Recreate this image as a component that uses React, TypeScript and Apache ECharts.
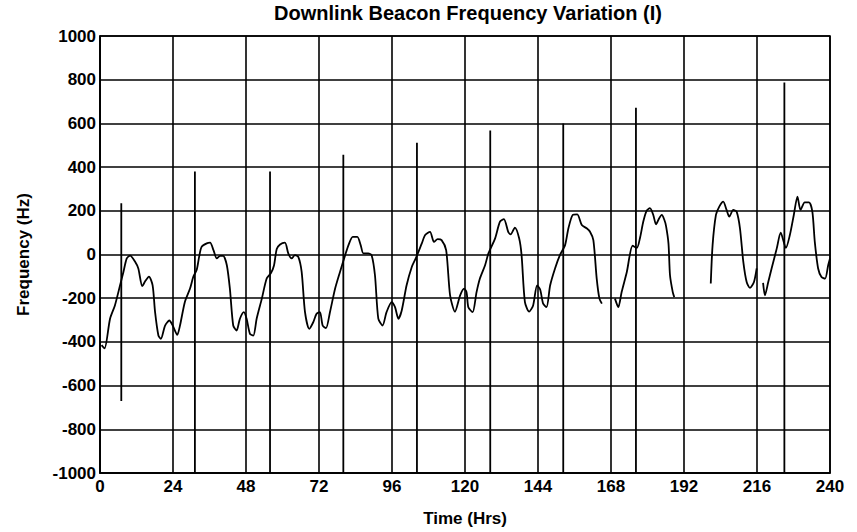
import React, { useEffect, useRef } from "react";
import * as echarts from "echarts";

// X axis ticks (hours) and Y axis ticks (Hz)
const hourTicks = [0, 24, 48, 72, 96, 120, 144, 168, 192, 216, 240];
const freqTicks = [-1000, -800, -600, -400, -200, 0, 200, 400, 600, 800, 1000];

// Continuous trace, pass 1 (0 - 165 h)
const hours1 = [0.5, 1.5, 3.3, 4.9, 6.6, 7.7, 8.8, 9.9, 11.5, 12.6, 13.9, 14.8, 16.1, 17.3, 18.1, 19.2, 20, 21.4, 22.8, 23.9, 25.4, 26.3, 27.9, 29.6, 30.7, 31.8, 32.6, 33.4, 35.1, 36.2, 37.3, 38.4, 39.5, 40.5, 41.7, 42.7, 43.8, 44.9, 46, 47.3, 48.2, 49.3, 50.4, 51.5, 53.2, 54.8, 56.2, 57.2, 58.1, 59.2, 60.8, 61.9, 63, 64.1, 65.2, 66.3, 67.4, 68.8, 70.1, 71.2, 72.3, 73.2, 74.3, 75.6, 77.3, 78.9, 80.6, 81.7, 83.1, 84.6, 85.7, 86.6, 88.2, 89.3, 90.4, 91.5, 92.9, 94.2, 95.9, 97, 98.1, 99.2, 100.8, 102.5, 103.8, 105.8, 106.9, 108.5, 109.8, 111, 112.3, 113.8, 115.1, 116.7, 118.4, 119.7, 120.5, 121.1, 122.5, 123.8, 124.9, 126.6, 127.7, 129.9, 131.5, 132.8, 134.2, 135, 136.4, 137.8, 138.6, 139.7, 141.1, 142.4, 143.7, 144.7, 145.7, 146.8, 148, 149.6, 151.2, 152.9, 154, 155.4, 156.9, 158.4, 160, 161.1, 162.2, 163.3, 164.2, 165];
const freq1 = [-415, -430, -294, -233, -141, -80, -18, -5, -32, -64, -145, -124, -101, -141, -263, -371, -386, -325, -302, -325, -368, -325, -217, -156, -101, -70, -10, 35, 51, 54, 20, -18, -6, -6, -49, -156, -325, -348, -294, -264, -294, -363, -371, -294, -202, -110, -85, -50, 25, 46, 54, 5, -18, -3, -11, -80, -264, -340, -310, -271, -264, -325, -337, -264, -156, -80, -3, 43, 81, 81, 43, 5, 5, -3, -95, -294, -325, -264, -218, -241, -294, -256, -141, -57, -18, 51, 89, 104, 58, 70, 66, 20, -187, -262, -187, -156, -172, -241, -264, -172, -110, -49, 5, 74, 150, 162, 104, 92, 123, 74, -3, -218, -261, -233, -141, -160, -225, -241, -141, -64, -3, 43, 120, 181, 184, 135, 120, 104, 66, -110, -202, -225];

// Pass 2 (169 - 189 h)
const hours2 = [169.3, 170.4, 171.5, 173.2, 175.1, 176.5, 177.6, 178.6, 179.7, 180.8, 181.9, 182.8, 183.8, 184.7, 185.5, 186.1, 186.9, 187.4, 188.3, 188.8];
const freq2 = [-202, -241, -172, -80, 40, 30, 80, 150, 200, 212, 181, 138, 165, 181, 160, 130, 50, -95, -172, -195];

// Pass 3 (201 - 216 h)
const hours3 = [200.8, 201.4, 202.5, 203.6, 204.9, 206, 206.9, 208.2, 209.3, 210.4, 211.5, 212.6, 213.7, 215, 215.9];
const freq3 = [-133, 43, 181, 219, 242, 204, 173, 204, 196, 120, -34, -126, -153, -126, -64];

// Pass 4 (218 - 240 h)
const hours4 = [218, 218.6, 219.7, 220.8, 222.5, 223.8, 225.5, 226.8, 228.1, 229.3, 230.3, 231.7, 233.1, 234.2, 235, 236.1, 237.2, 238.4, 239.4, 240];
const freq4 = [-130, -187, -126, -64, 28, 100, 30, 89, 181, 265, 204, 239, 239, 196, 58, -64, -103, -110, -49, -18];

// Vertical spikes (retune events)
const spikeHours = [7.0, 31.2, 55.9, 80.0, 104.2, 128.3, 152.3, 176.2, 225.0];
const spikeLow = [-670, -1000, -1000, -1000, -1000, -1000, -1000, -1000, -1000];
const spikeHigh = [235, 380, 380, 457, 511, 567, 600, 672, 787];

const FONT = "'Liberation Sans', Arial, Helvetica, sans-serif";

function buildTrace() {
  const segs: [number[], number[]][] = [
    [hours1, freq1],
    [hours2, freq2],
    [hours3, freq3],
    [hours4, freq4],
  ];
  const out: (number | null)[][] = [];
  segs.forEach(([h, f], i) => {
    if (i > 0) out.push([h[0], null]);
    h.forEach((t, j) => out.push([t, f[j]]));
  });
  return out;
}

function buildSpikes() {
  const out: (number | null)[][] = [];
  spikeHours.forEach((t, i) => {
    out.push([t, spikeLow[i]]);
    out.push([t, spikeHigh[i]]);
    out.push([t, null]);
  });
  return out;
}

export default function App() {
  const ref = useRef<HTMLDivElement>(null);
  useEffect(() => {
    const chart = echarts.init(ref.current!, null, { renderer: "svg" });
    const axisText = { color: "#000", fontSize: 17, fontWeight: "bold" as const, fontFamily: FONT };
    chart.setOption({
      animation: false,
      backgroundColor: "#fff",
      title: {
        text: "Downlink Beacon Frequency Variation (I)",
        left: 468,
        top: 3,
        padding: 0,
        textAlign: "center",
        textStyle: { color: "#000", fontSize: 20, fontWeight: "bold", fontFamily: FONT },
      },
      grid: {
        left: 100,
        top: 36,
        width: 730,
        height: 437,
        show: true,
        borderColor: "#000",
        borderWidth: 1.6,
      },
      xAxis: {
        type: "value",
        min: hourTicks[0],
        max: hourTicks[hourTicks.length - 1],
        interval: 24,
        name: "Time (Hrs)",
        nameLocation: "middle",
        nameGap: 37,
        nameTextStyle: axisText,
        axisLine: { onZero: false, lineStyle: { color: "#000", width: 1.6 } },
        axisTick: { show: false },
        axisLabel: { ...axisText, margin: 5, formatter: (v: number) => String(v) },
        splitLine: { show: true, lineStyle: { color: "#000", width: 1.6 } },
      },
      yAxis: {
        type: "value",
        min: freqTicks[0],
        max: freqTicks[freqTicks.length - 1],
        interval: 200,
        name: "Frequency (Hz)",
        nameLocation: "middle",
        nameGap: 68,
        nameTextStyle: axisText,
        axisLine: { show: true, onZero: false, lineStyle: { color: "#000", width: 1.6 } },
        axisTick: { show: false },
        axisLabel: { ...axisText, margin: 4, formatter: (v: number) => String(v) },
        splitLine: { show: true, lineStyle: { color: "#000", width: 1.6 } },
      },
      series: [
        {
          type: "line",
          data: buildTrace(),
          showSymbol: false,
          smooth: 0.25,
          connectNulls: false,
          lineStyle: { color: "#000", width: 1.8 },
          z: 3,
        },
        {
          type: "line",
          data: buildSpikes(),
          showSymbol: false,
          connectNulls: false,
          lineStyle: { color: "#000", width: 1.8 },
          z: 3,
        },
      ],
    });
    return () => chart.dispose();
  }, []);
  return (
    <div
      ref={ref}
      style={{ position: "fixed", left: 0, top: 0, width: 857, height: 532, background: "#fff" }}
    />
  );
}
